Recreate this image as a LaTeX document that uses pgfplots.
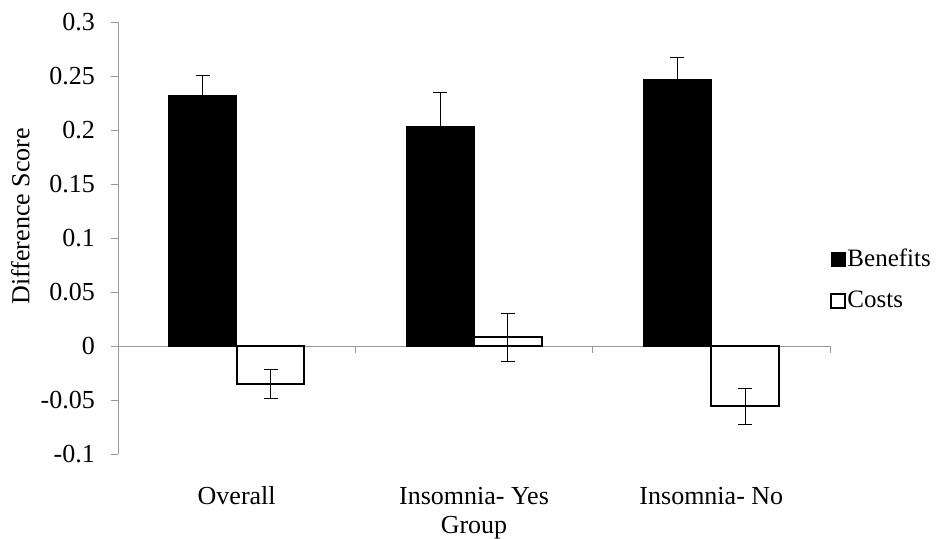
\documentclass[border=0pt]{standalone}
\usepackage{fontspec}
\setmainfont{Liberation Serif}
\usepackage{pgfplots}
\pgfplotsset{compat=1.18}
\begin{document}
\fontsize{26bp}{31bp}\selectfont%
\begin{tikzpicture}
\path[use as bounding box] (-118bp,-85bp) rectangle (818bp,454bp);
\begin{axis}[
  at={(0,0)}, anchor=south west,
  width=712bp, height=432bp, scale only axis,
  xmin=-0.5, xmax=2.5, ymin=-0.1, ymax=0.3,
  axis lines=left,
  axis line style={-},
  x axis line style={draw=none},
  y axis line style={draw=gray!80, line width=0.8bp},
  xtick={0,1,2},
  xticklabels={Overall, Insomnia- Yes, Insomnia- No},
  x tick style={draw=none},
  ytick={-0.1,-0.05,0,0.05,0.1,0.15,0.2,0.25,0.3},
  yticklabels={-0.1,-0.05,0,0.05,0.1,0.15,0.2,0.25,0.3},
  y tick style={draw=gray!80, line width=0.8bp},
  tick align=outside,
  major tick length=7bp,
  yticklabel style={anchor=east, inner sep=0bp, xshift=-16bp},
  xticklabel style={anchor=base, inner sep=0bp, yshift=-43bp},
  ylabel={Difference Score},
  ylabel style={at={(axis description cs:-0.137,0.55)}, anchor=center},
  xlabel={Group},
  xlabel style={at={(axis description cs:0.5,-0.183)}, anchor=base, inner sep=0bp},
  ybar=0pt, bar width=0.2857,
  legend image code/.code={\draw[#1] (0bp,-7bp) rectangle (14bp,7bp);},
  legend style={at={(axis description cs:0.9955,0.403)}, anchor=west, draw=none, fill=none,
    row sep=18bp, nodes={inner sep=1.5bp}, font=\fontsize{25bp}{30bp}\selectfont},
  legend cell align=left,
  clip=false,
]
\draw[gray!80, line width=0.8bp] (axis cs:-0.5,0) -- (axis cs:2.5,0);
\draw[gray!80, line width=0.8bp] (axis cs:0.5,0) -- ++(0bp,-7bp);
\draw[gray!80, line width=0.8bp] (axis cs:1.5,0) -- ++(0bp,-7bp);
\draw[gray!80, line width=0.8bp] (axis cs:2.5,0) -- ++(0bp,-7bp);
\addplot[fill=black, draw=black, line width=0.8bp,
  error bars/.cd, y dir=both, y explicit,
  error bar style={black, line width=1bp},
  error mark options={rotate=90, black, line width=1bp, mark size=7bp}]
  coordinates {(0,0.232) +- (0,0.018) (1,0.203) +- (0,0.032) (2,0.247) +- (0,0.020)};
\addlegendentry{Benefits}
\addplot[fill=white, draw=black, line width=2bp,
  error bars/.cd, y dir=both, y explicit,
  error bar style={black, line width=1bp},
  error mark options={rotate=90, black, line width=1bp, mark size=7bp}]
  coordinates {(0,-0.035) +- (0,0.0135) (1,0.008) +- (0,0.022) (2,-0.056) +- (0,0.017)};
\addlegendentry{Costs}
\end{axis}
\end{tikzpicture}
\end{document}
